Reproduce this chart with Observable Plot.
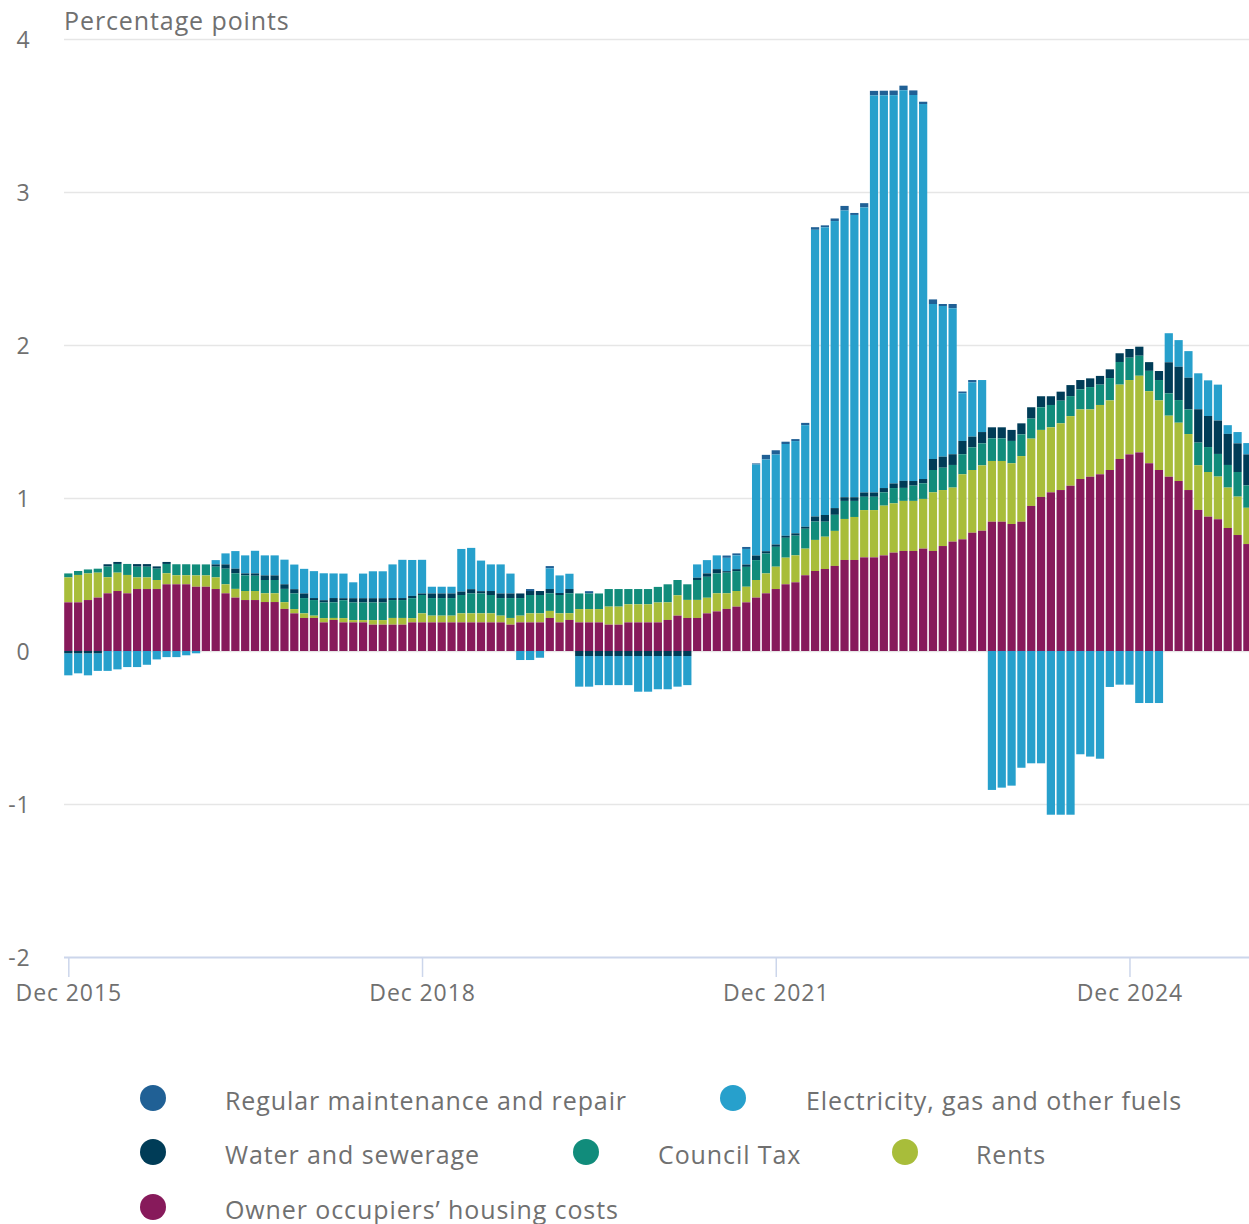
<!DOCTYPE html>
<html><head><meta charset="utf-8">
<script src="https://cdn.jsdelivr.net/npm/d3@7"></script>
<script src="https://cdn.jsdelivr.net/npm/@observablehq/plot@0.6"></script>
<style>
html,body{margin:0;padding:0;background:#fff;overflow:hidden;}
#chart{position:relative;width:1249px;height:1224px;font-family:"Open Sans",sans-serif;}
#chart svg{display:block;}
#chart svg text{letter-spacing:0.9px;}
</style></head><body><div id="chart"></div>
<script>
// ---- categories ----
const firstMonth = "2015-12-01";
const lastMonth = "2025-12-01";
const xTickLabels = ["Dec 2015", "Dec 2018", "Dec 2021", "Dec 2024"];
const yTicks = [-2, -1, 0, 1, 2, 3, 4];
const yLabel = "Percentage points";

// ---- series (legend order) ----
const seriesNames = ["Regular maintenance and repair", "Electricity, gas and other fuels", "Water and sewerage", "Council Tax", "Rents", "Owner occupiers\u2019 housing costs"];
const seriesColors = ["#206095", "#27a0cc", "#003c57", "#118c7b", "#a8bd3a", "#871a5b"];

// ---- values (percentage points), Dec 2015 .. Dec 2025 ----
const ooh = [0.318,0.318,0.333,0.349,0.377,0.392,0.377,0.405,0.405,0.405,0.436,0.436,0.436,0.42,0.42,0.405,0.377,0.349,0.333,0.333,
0.32,0.32,0.275,0.246,0.216,0.216,0.187,0.203,0.187,0.187,0.187,0.172,0.172,0.172,0.172,0.187,0.187,0.187,0.187,0.187,
0.187,0.187,0.187,0.187,0.187,0.172,0.187,0.187,0.187,0.216,0.187,0.203,0.187,0.187,0.187,0.172,0.172,0.187,0.187,0.187,
0.187,0.203,0.231,0.216,0.216,0.246,0.259,0.275,0.29,0.318,0.349,0.377,0.405,0.436,0.449,0.495,0.523,0.536,0.556,0.595,
0.595,0.612,0.612,0.625,0.643,0.654,0.654,0.669,0.654,0.686,0.715,0.73,0.773,0.786,0.845,0.845,0.83,0.845,0.948,1.007,
1.037,1.052,1.08,1.124,1.139,1.155,1.183,1.255,1.285,1.298,1.227,1.183,1.139,1.111,1.052,0.922,0.878,0.861,0.804,0.758,
0.699];
const rents = [0.163,0.179,0.174,0.163,0.105,0.12,0.12,0.076,0.076,0.059,0.072,0.059,0.059,0.074,0.074,0.076,0.059,0.057,0.059,0.059,
0.057,0.057,0.044,0.028,0.03,0.015,0.028,0.013,0.028,0.015,0.015,0.03,0.03,0.044,0.044,0.028,0.059,0.044,0.044,0.044,
0.059,0.059,0.059,0.059,0.044,0.044,0.044,0.059,0.059,0.046,0.059,0.044,0.087,0.087,0.087,0.118,0.118,0.118,0.118,0.118,
0.13,0.115,0.133,0.118,0.118,0.102,0.118,0.102,0.102,0.102,0.115,0.13,0.146,0.174,0.176,0.174,0.203,0.211,0.229,0.268,
0.281,0.309,0.309,0.325,0.322,0.327,0.327,0.325,0.383,0.366,0.353,0.425,0.41,0.427,0.397,0.397,0.397,0.429,0.44,0.438,
0.425,0.436,0.455,0.455,0.44,0.453,0.455,0.486,0.486,0.501,0.471,0.455,0.399,0.381,0.366,0.292,0.292,0.279,0.264,0.251,
0.237];
const councilTax = [0.026,0.026,0.026,0.026,0.07,0.057,0.072,0.07,0.07,0.074,0.061,0.072,0.072,0.072,0.072,0.07,0.102,0.102,0.102,0.1,
0.087,0.087,0.087,0.102,0.1,0.102,0.102,0.102,0.117,0.115,0.115,0.115,0.115,0.117,0.117,0.13,0.12,0.115,0.115,0.115,
0.12,0.13,0.13,0.12,0.115,0.13,0.115,0.12,0.12,0.115,0.12,0.13,0.102,0.102,0.102,0.115,0.115,0.1,0.1,0.1,
0.102,0.118,0.1,0.102,0.13,0.137,0.13,0.135,0.13,0.13,0.13,0.13,0.13,0.13,0.129,0.13,0.12,0.098,0.105,0.118,
0.105,0.087,0.087,0.087,0.1,0.085,0.1,0.102,0.146,0.146,0.148,0.131,0.148,0.144,0.148,0.148,0.146,0.142,0.131,0.148,
0.146,0.148,0.131,0.131,0.146,0.133,0.146,0.148,0.146,0.131,0.133,0.133,0.146,0.148,0.161,0.148,0.163,0.148,0.148,0.161,
0.146];
const water = [-0.015,-0.015,-0.015,-0.015,0.015,0.013,0,0.017,0.017,0.015,0.013,0,0,0,0,0.015,0.028,0.03,0.013,0.015,
0.03,0.03,0.03,0.028,0.03,0.013,0.015,0.028,0.013,0.028,0.028,0.028,0.028,0.013,0.013,0.015,0.01,0.03,0.03,0.03,
0.022,0.028,0.015,0.026,0.03,0.03,0.03,0.026,0.026,0.028,0.013,0.028,-0.033,-0.033,-0.033,-0.033,-0.033,-0.033,-0.033,-0.033,
-0.033,-0.033,-0.033,-0.033,0.015,0.022,0.028,0.01,0.013,0.015,0.03,0.015,0.015,0.013,0.015,0.013,0.033,0.044,0.044,0.024,
0.024,0.028,0.028,0.028,0.03,0.046,0.03,0.028,0.072,0.072,0.07,0.087,0.07,0.074,0.072,0.072,0.072,0.072,0.074,0.072,
0.057,0.059,0.072,0.061,0.057,0.057,0.057,0.057,0.057,0.059,0.057,0.059,0.203,0.218,0.207,0.218,0.203,0.218,0.203,0.187,
0.203];
const electricity = [-0.144,-0.131,-0.144,-0.115,-0.13,-0.12,-0.105,-0.105,-0.09,-0.055,-0.04,-0.04,-0.028,-0.015,0,0.028,0.072,0.115,0.118,0.148,
0.131,0.131,0.161,0.161,0.161,0.176,0.176,0.161,0.161,0.104,0.161,0.176,0.176,0.22,0.25,0.235,0.22,0.044,0.044,0.044,
0.279,0.27,0.2,0.174,0.19,0.13,-0.059,-0.059,-0.044,0.135,0.115,0.1,-0.2,-0.2,-0.19,-0.19,-0.19,-0.19,-0.233,-0.233,
-0.217,-0.217,-0.2,-0.19,0.087,0.087,0.09,0.087,0.09,0.102,0.595,0.6,0.588,0.6,0.603,0.664,1.874,1.88,1.876,1.874,
1.845,1.863,2.595,2.567,2.538,2.553,2.523,2.451,1.013,0.985,0.954,0.312,0.355,0.34,-0.908,-0.893,-0.88,-0.763,-0.734,-0.734,
-1.07,-1.07,-1.07,-0.675,-0.69,-0.704,-0.235,-0.22,-0.22,-0.34,-0.34,-0.34,0.19,0.174,0.174,0.235,0.233,0.235,0.057,0.074,
0.074];
const maintenance = [0,0,0,0,0,0,0,0,0,0,0,0,0,0,0,0,0,0,0,0,
0,0,0,0,0,0,0,0,0,0,0,0,0,0,0,0,0,0,0,0,
0,0,0,0,0,0,0,0.013,0,0.015,0,0,0,0.015,0,0,0,0,0,0,
0,0,0,0,0,0,0,0.015,0.013,0.013,0.007,0.03,0.028,0.015,0.013,0.015,0.017,0.013,0.017,0.03,
0.013,0.028,0.03,0.03,0.03,0.03,0.03,0.015,0.03,0.013,0.028,0.011,0.015,0,0,0,0,0,0,0,
0,0,0,0,0,0,0,0,0,0,0,0,0,0,0,0,0,0,0,0,
0];

// ---- build table ----
const months = d3.utcMonth.range(new Date(firstMonth), d3.utcMonth.offset(new Date(lastMonth), 1));
const seriesValues = [maintenance, electricity, water, councilTax, rents, ooh];
const records = [];
seriesNames.forEach((name, s) => {
  seriesValues[s].forEach((v, i) => records.push({date: months[i], series: name, value: v}));
});
const stackOrder = seriesNames.slice().reverse(); // bottom (nearest zero) first
const parseTick = d3.utcParse("%b %Y");
const xTicks = xTickLabels.map(t => months.find(m => +m === +parseTick(t)));
const fmt = d3.utcFormat("%b %Y");

const W = 1249, H = 1040;
const textColor = "#707070";
const svg = Plot.plot({
  width: W, height: H,
  marginTop: 39, marginBottom: 83, marginLeft: 64, marginRight: 0,
  style: {fontFamily: '"Open Sans", sans-serif', fontSize: "23px", color: textColor, background: "transparent"},
  x: {type: "band", domain: months, range: [63.4, 1252.3], padding: 0},
  y: {domain: [-2, 4]},
  color: {domain: seriesNames, range: seriesColors},
  marks: [
    Plot.gridY({ticks: [-1, 0, 1, 2, 3, 4], stroke: "#e6e6e6", strokeOpacity: 1, strokeWidth: 1.5}),
    Plot.barY(records, Plot.stackY({x: "date", y: "value", fill: "series", order: stackOrder, insetLeft: 0.8, insetRight: 0.8})),
    Plot.ruleY([-2], {stroke: "#ccd6eb", strokeWidth: 2}),
    Plot.axisY({ticks: yTicks, tickSize: 0, tickPadding: 34, tickFormat: d => String(d), label: null, dy: 1.5, fill: textColor, fontSize: 23}),
    Plot.axisX({ticks: xTicks, tickSize: 20, tickPadding: 7, tickFormat: fmt, label: null, stroke: "#ccd6eb", strokeWidth: 1.5, strokeOpacity: 1, fill: textColor, fontSize: 23})
  ]
});
d3.select(svg).append("text")
  .attr("x", 64).attr("y", 30)
  .attr("text-anchor", "start")
  .attr("fill", textColor).attr("font-size", 25).attr("font-family", '"Open Sans", sans-serif')
  .text(yLabel);
document.getElementById("chart").appendChild(svg);

// ---- legend ----
const legendRows = [
  [{s: 0, cx: 153, tx: 225}, {s: 1, cx: 733, tx: 806}],
  [{s: 2, cx: 153, tx: 225}, {s: 3, cx: 586, tx: 658}, {s: 4, cx: 905, tx: 976}],
  [{s: 5, cx: 153, tx: 225}]
];
const rowY = [58, 112, 167];
const leg = d3.select("#chart").append("svg").attr("width", W).attr("height", 1224 - H)
  .style("font-family", '"Open Sans", sans-serif');
legendRows.forEach((row, r) => row.forEach(it => {
  leg.append("circle").attr("cx", it.cx).attr("cy", rowY[r]).attr("r", 13).attr("fill", seriesColors[it.s]);
  leg.append("text").attr("x", it.tx).attr("y", rowY[r] + 1.5).attr("dominant-baseline", "central")
    .attr("font-size", 25).attr("fill", textColor).text(seriesNames[it.s]);
}));
</script></body></html>
